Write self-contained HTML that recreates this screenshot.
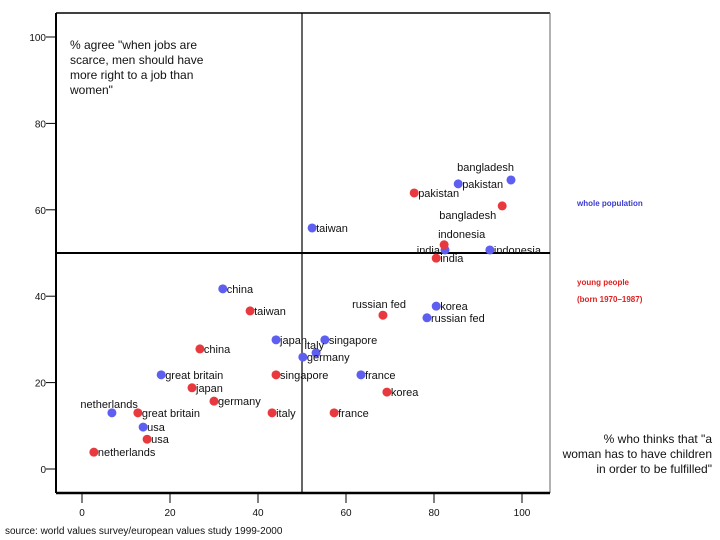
<!DOCTYPE html>
<html><head><meta charset="utf-8"><style>
body{margin:0;background:#fff;}
svg{display:block;font-family:"Liberation Sans",sans-serif;}
</style></head><body>
<svg id="chart" width="720" height="540">
<rect x="0" y="0" width="720" height="540" fill="#fff"/>
<g id="frame">
<line x1="56" y1="13" x2="550" y2="13" stroke="#000" stroke-width="1.5"/>
<line x1="550" y1="13" x2="550" y2="493" stroke="#666" stroke-width="1"/>
<line x1="56" y1="13" x2="56" y2="493" stroke="#000" stroke-width="2"/>
<line x1="56" y1="493" x2="550" y2="493" stroke="#000" stroke-width="2.5"/>
</g>
<g id="axes"></g>
<g id="refs"></g>
<g id="marks"></g>
<text x="70" y="49" font-size="12" fill="#111"><tspan x="70">% agree "when jobs are</tspan><tspan x="70" dy="15">scarce, men should have</tspan><tspan x="70" dy="15">more right to a job than</tspan><tspan x="70" dy="15">women"</tspan></text>
<text font-size="12" fill="#111" text-anchor="end"><tspan x="712" y="443">% who thinks that "a</tspan><tspan x="712" y="458">woman has to have children</tspan><tspan x="712" y="473">in order to be fulfilled"</tspan></text>
<text x="577" y="206" font-size="8" font-weight="bold" fill="#3a3ad0">whole population</text>
<text x="577" y="285" font-size="8" font-weight="bold" fill="#e02020">young people</text>
<text x="577" y="302" font-size="8" font-weight="bold" fill="#e02020">(born 1970–1987)</text>
<text x="5" y="534" font-size="10" fill="#111">source: world values survey/european values study 1999-2000</text>
</svg>
<script>
const xTicks=[0,20,40,60,80,100];
const yTicks=[0,20,40,60,80,100];
const wholeNames=["bangladesh","pakistan","taiwan","india","indonesia","china","korea","russian fed","japan","singapore","italy","germany","great britain","france","netherlands","usa"];
const wholeX=[97.5,85.5,52.3,82.5,92.7,32,80.5,78.4,44.1,55.2,53.2,50.2,18,63.4,6.8,13.9];
const wholeY=[66.9,66,55.8,50.7,50.7,41.7,37.7,35,29.9,29.9,26.9,25.9,21.8,21.8,13,9.7];
const youngNames=["pakistan","bangladesh","indonesia","india","russian fed","taiwan","china","singapore","japan","korea","germany","great britain","italy","france","usa","netherlands"];
const youngX=[75.5,95.5,82.3,80.5,68.4,38.2,26.8,44.1,25,69.3,30,12.7,43.2,57.3,14.8,2.7];
const youngY=[63.9,60.9,51.9,48.8,35.6,36.6,27.8,21.8,18.8,17.8,15.7,13,13,13,6.9,3.9];
// label placement (style, not data): dx, dy, anchor
const wholeLab=[[3,-9,"end"],[4,4,"start"],[4,4,"start"],[-5,4,"end"],[4,4,"start"],[4,4,"start"],[4,4,"start"],[4,4,"start"],[4,4,"start"],[4,4,"start"],[8,-4,"end"],[4,4,"start"],[4,4,"start"],[4,4,"start"],[26,-5,"end"],[4,4,"start"]];
const youngLab=[[4,4,"start"],[-6,13,"end"],[-6,-7,"start"],[4,4,"start"],[23,-7,"end"],[4,4,"start"],[4,4,"start"],[4,4,"start"],[4,4,"start"],[4,4,"start"],[4,4,"start"],[4,4,"start"],[4,4,"start"],[4,4,"start"],[4,4,"start"],[4,4,"start"]];
const NS="http://www.w3.org/2000/svg";
function sx(v){return 82+v*4.4;}
function sy(v){return 469-v*4.32;}
function mk(tag,attrs,parent){const e=document.createElementNS(NS,tag);for(const k in attrs)e.setAttribute(k,attrs[k]);parent.appendChild(e);return e;}
const axes=document.getElementById('axes');
xTicks.forEach(t=>{
  const l=mk('line',{x1:sx(t),x2:sx(t),y1:493,y2:503,stroke:'#000','stroke-width':1},axes);
  
  
  const tx=mk('text',{x:sx(t),y:516,'font-size':10,'text-anchor':'middle',fill:'#111'},axes);
  tx.textContent=t;
  
  
});
yTicks.forEach(t=>{
  const l=mk('line',{x1:46,x2:56,y1:sy(t),y2:sy(t),stroke:'#000','stroke-width':1},axes);
  
  
  const tx=mk('text',{x:46,y:sy(t)+4,'font-size':10,'text-anchor':'end',fill:'#111'},axes);
  tx.textContent=t;
  
  
});
const refs=document.getElementById('refs');
const vl=mk('line',{x1:sx(50),x2:sx(50),y1:13,y2:493,stroke:'#000','stroke-width':1.2},refs);


const hl=mk('line',{x1:56,x2:550,y1:sy(50),y2:sy(50),stroke:'#000','stroke-width':2},refs);


const marks=document.getElementById('marks');
function series(names,xs,ys,lab,color,key){
  names.forEach((n,i)=>{
    const cx=sx(xs[i]),cy=sy(ys[i]);
    const c=mk('circle',{cx:cx,cy:cy,r:4.5,fill:color},marks);
    
    
    const p=lab[i];
    const tx=mk('text',{x:cx+p[0],y:cy+p[1],'font-size':11,'text-anchor':p[2],fill:'#111'},marks);
    tx.textContent=n;
    
    
  });
}
series(wholeNames,wholeX,wholeY,wholeLab,'#5e5ef0','whole-population');
series(youngNames,youngX,youngY,youngLab,'#e83a3e','young-people');
</script>
</body></html>
